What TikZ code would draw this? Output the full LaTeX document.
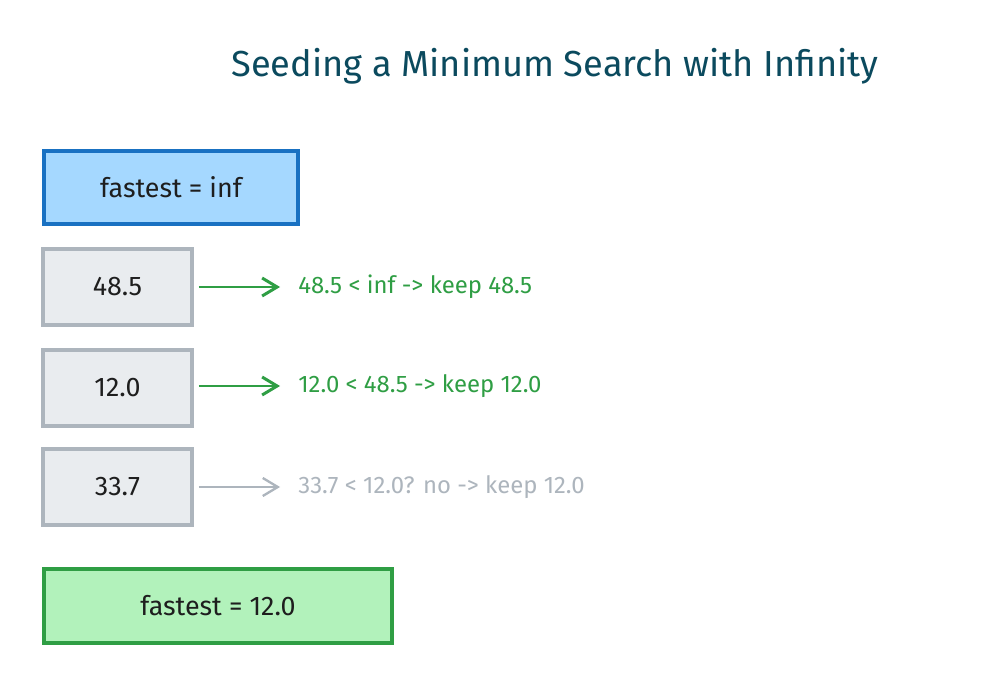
\documentclass[tikz,border=0pt]{standalone}
\usepackage{fontspec}
\setmainfont{Fira Sans}
\usetikzlibrary{arrows.meta}

\definecolor{inkdark}{HTML}{1E1E1E}
\definecolor{titleteal}{HTML}{0B4A5E}
\definecolor{blueline}{HTML}{1971C2}
\definecolor{bluefill}{HTML}{A5D8FF}
\definecolor{grayline}{HTML}{ADB5BD}
\definecolor{grayfill}{HTML}{E9ECEF}
\definecolor{greenline}{HTML}{2F9E44}
\definecolor{greenfill}{HTML}{B2F2BB}

\begin{document}
\begin{tikzpicture}[x=0.02cm, y=-0.02cm]
	\tikzset{
		boxfont/.style={font=\fontsize{15.3}{18}\selectfont},
		valbox/.style={draw=grayline, fill=grayfill, line width=1.8pt, minimum width=2.98cm, minimum height=1.52cm, inner sep=0pt, text=inkdark, boxfont},
		seedbox/.style={draw=blueline, fill=bluefill, line width=2.1pt, minimum width=5.08cm, minimum height=1.46cm, inner sep=0pt, text=inkdark, boxfont},
		donebox/.style={draw=greenline, fill=greenfill, line width=2.1pt, minimum width=6.96cm, minimum height=1.48cm, inner sep=0pt, text=inkdark, boxfont},
		steptext/.style={anchor=west, inner sep=0pt, font=\fontsize{13.6}{16}\selectfont},
		flow/.style={-{Straight Barb[length=3mm, width=3.6mm]}, line width=1.7pt, shorten <=3pt, shorten >=0.36cm}
	}
	\useasboundingbox (0,0) rectangle (1000,689);
	\fill[white] (0,0) rectangle (1000,689);

	% title
	\node[text=titleteal, font=\fontsize{20.6}{24}\selectfont, inner sep=0pt] (title) at (555,66) {Seeding a Minimum Search with Infinity};

	% start value
	\node[seedbox] (seed) at (171,187.5) {fastest = inf};

	% the three readings
	\node[valbox] (r1) at (117.5,287) {48.5};
	\node[valbox] (r2) at (117.5,388) {12.0};
	\node[valbox] (r3) at (117.5,487) {33.7};

	\node[steptext, text=greenline] (c1) at (298,287) {48.5 < inf -> keep 48.5};
	\node[steptext, text=greenline] (c2) at (298,386) {12.0 < 48.5 -> keep 12.0};
	\node[steptext, text=grayline] (c3) at (298,487) {33.7 < 12.0? no -> keep 12.0};

	\draw[flow, greenline] (r1.east |- c1) -- (c1.west);
	\draw[flow, greenline] (r2.east |- c2) -- (c2.west);
	\draw[flow, grayline, line width=1.3pt] (r3.east |- c3) -- (c3.west);

	% result
	\node[donebox] (result) at (218,606) {fastest = 12.0};
\end{tikzpicture}
\end{document}
